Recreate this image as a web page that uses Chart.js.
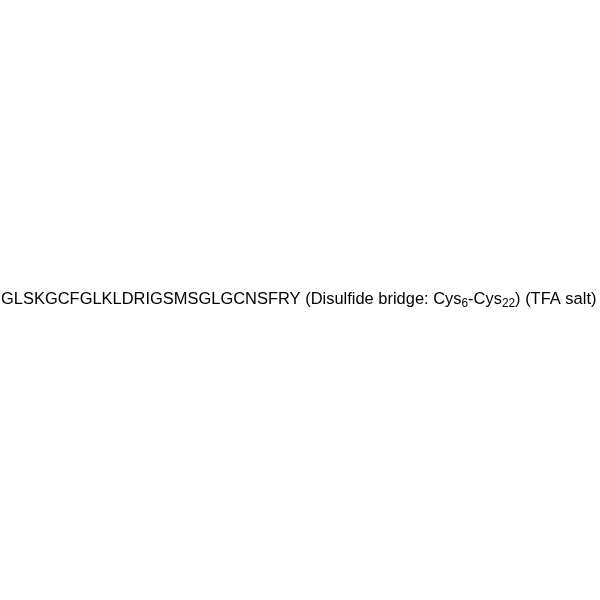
<!DOCTYPE html>
<html>
<head>
<meta charset="utf-8">
<script src="https://cdn.jsdelivr.net/npm/chart.js@4/dist/chart.umd.min.js"></script>
<style>
  html, body { margin: 0; padding: 0; background: #fff; }
  #c { display: block; }
</style>
</head>
<body>
<canvas id="c" width="600" height="600"></canvas>
<script>
// text pieces of the label, sub = true means subscript
const textParts = ['GLSKGCFGLKLDRIGSMSGLGCNSFRY (Disulfide bridge: Cys', '6', '-Cys', '22', ') (TFA salt)'];
const subFlags = [false, true, false, true, false];

const fontFamily = 'Liberation Sans, Arial, sans-serif';
const targetLeft = 1;
const targetRight = 597;
const baselineY = 304;

const labelPlugin = {
  id: 'peptideLabel',
  afterDraw(chart) {
    const c = chart.ctx;
    c.save();
    c.fillStyle = '#000';
    c.textBaseline = 'alphabetic';
    // measure at a base size, then scale to span the page width
    const measure = (size) => {
      let w = 0;
      textParts.forEach((t, i) => {
        c.font = (subFlags[i] ? size * 0.72 : size) + 'px ' + fontFamily;
        w += c.measureText(t).width;
      });
      return w;
    };
    const base = 14;
    const size = base * (targetRight - targetLeft) / measure(base);
    let x = targetLeft;
    textParts.forEach((t, i) => {
      const s = subFlags[i] ? size * 0.72 : size;
      c.font = s + 'px ' + fontFamily;
      c.fillText(t, x, subFlags[i] ? baselineY + size * 0.2 : baselineY);
      x += c.measureText(t).width;
    });
    c.restore();
  }
};

new Chart(document.getElementById('c'), {
  type: 'scatter',
  data: { datasets: [{ data: [] }] },
  options: {
    responsive: false,
    animation: false,
    events: [],
    plugins: { legend: { display: false }, tooltip: { enabled: false } },
    scales: { x: { display: false }, y: { display: false } }
  },
  plugins: [labelPlugin]
});
</script>
</body>
</html>
